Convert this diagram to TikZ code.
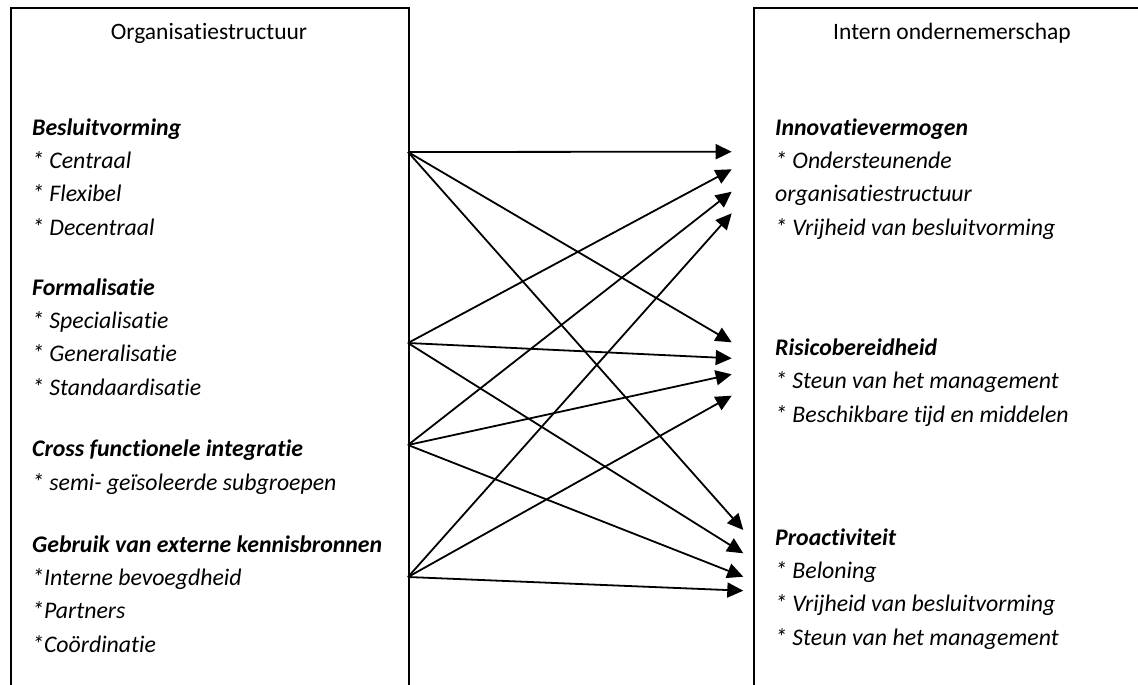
\documentclass[tikz,border=0pt]{standalone}
\usepackage{fontspec}
\setmainfont{Carlito}[Ligatures=NoCommon]
\usetikzlibrary{arrows.meta, positioning}
\tikzset{
  kader/.style={
    draw=black,
    line width=2pt,
    minimum width=398pt,
    minimum height=720pt,
    anchor=north west,
    inner sep=0pt
  },
  kop/.style={
    font=\fontsize{23.5}{33.3}\selectfont,
    anchor=base
  },
  lijst/.style={
    font=\fontsize{23.8}{33.3}\selectfont\itshape,
    align=left,
    anchor=base west,
    inner sep=0pt
  },
  pijl/.style={
    line width=1.8pt,
    -{Triangle[length=16pt,width=15pt]}
  }
}

\begin{document}
\begin{tikzpicture}[x=1pt, y=-1pt]
\clip (0,0) rectangle (1138,685);

% --- left side ---
\node (org) [kader] at (10,7) {};
\node (orgkop) [kop] at (209,40) {Organisatiestructuur};
\node (besluit) [lijst] at (32,235) {\textbf{Besluitvorming}\\{}* Centraal\\{}* Flexibel\\{}* Decentraal};
\node (formal) [lijst] at (32,395) {\textbf{Formalisatie}\\{}* Specialisatie\\{}* Generalisatie\\{}* Standaardisatie};
\node (cross) [lijst] at (32,490) {\textbf{Cross functionele integratie}\\{}* semi- geïsoleerde subgroepen};
\node (extern) [lijst] at (32,652) {\textbf{Gebruik van externe kennisbronnen}\\{}*Interne bevoegdheid\\{}*Partners\\{}*Coördinatie};

% --- right side ---
\node (intern) [kader] at (753,7) {};
\node (internkop) [kop] at (952,40) {Intern ondernemerschap};
\node (innovatie) [lijst] at (775,235) {\textbf{Innovatievermogen}\\{}* Ondersteunende\\organisatiestructuur\\{}* Vrijheid van besluitvorming};
\node (risico) [lijst] at (775,422) {\textbf{Risicobereidheid}\\{}* Steun van het management\\{}* Beschikbare tijd en middelen};
\node (proactief) [lijst] at (775,645) {\textbf{Proactiviteit}\\{}* Beloning\\{}* Vrijheid van besluitvorming\\{}* Steun van het management};

% --- arrow ends ---
\coordinate (b) at (408,152);
\coordinate (f) at (408,343);
\coordinate (c) at (408,445);
\coordinate (g) at (408,577);
\coordinate (i1) at (731.7,151.7);
\coordinate (i2) at (731.7,169.3);
\coordinate (i3) at (731.7,191.7);
\coordinate (i4) at (731.7,213.3);
\coordinate (r1) at (731.7,342.3);
\coordinate (r2) at (731.7,358.3);
\coordinate (r3) at (731.7,374.3);
\coordinate (r4) at (731.7,395.7);
\coordinate (p1) at (743.3,530);
\coordinate (p2) at (743.3,553.3);
\coordinate (p3) at (743.3,576.7);
\coordinate (p4) at (743.3,590.7);

% --- arrows ---
\draw[pijl] (b) -- (i1);
\draw[pijl] (b) -- (r1);
\draw[pijl] (b) -- (p1);
\draw[pijl] (f) -- (i2);
\draw[pijl] (f) -- (r2);
\draw[pijl] (f) -- (p2);
\draw[pijl] (c) -- (i3);
\draw[pijl] (c) -- (r3);
\draw[pijl] (c) -- (p3);
\draw[pijl] (g) -- (i4);
\draw[pijl] (g) -- (r4);
\draw[pijl] (g) -- (p4);

\end{tikzpicture}
\end{document}
